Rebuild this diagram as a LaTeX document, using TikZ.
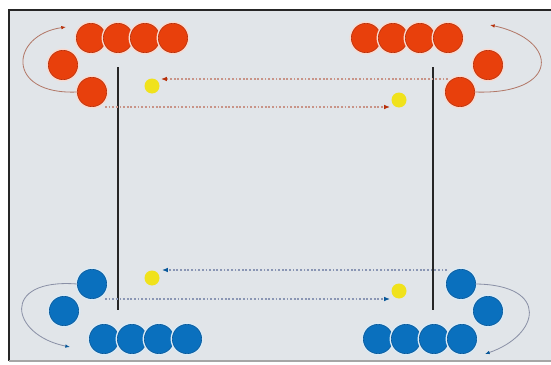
\documentclass[tikz,border=0pt]{standalone}
\usetikzlibrary{arrows.meta}
\definecolor{bg}{HTML}{E1E5E9}
\definecolor{redc}{HTML}{E8400C}
\definecolor{redd}{HTML}{B8300A}
\definecolor{bluec}{HTML}{0A70BE}
\definecolor{blued}{HTML}{08589A}
\definecolor{yel}{HTML}{F0E21C}
\definecolor{reddot}{HTML}{C89488}
\definecolor{bluedot}{HTML}{8A96B4}
\definecolor{redcurve}{HTML}{B27868}
\definecolor{bluecurve}{HTML}{8A90A6}
\tikzset{
  rball/.style={circle,fill=redc,draw=redd,line width=0.5pt,inner sep=0pt,minimum size=0.88cm,
    preaction={draw=redc!20,line width=3pt}},
  bball/.style={circle,fill=bluec,draw=blued,line width=0.5pt,inner sep=0pt,minimum size=0.88cm,
    preaction={draw=bluec!15,line width=3pt}},
  ydot/.style={circle,fill=yel,draw=none,inner sep=0pt,minimum size=0.45cm},
  pillar/.style={line width=2.4pt,draw=black!85},
  rflow/.style={draw=reddot,line width=1pt,dash pattern=on 1.5pt off 1.6pt,
    -{Latex[length=5pt,width=4pt,color=redd]}},
  bflow/.style={draw=bluedot,line width=1pt,dash pattern=on 1.5pt off 1.6pt,
    -{Latex[length=5pt,width=4pt,color=blued]}},
  rcurve/.style={draw=redcurve,line width=0.7pt,-{Latex[length=4pt,width=3pt,color=redd]}},
  bcurve/.style={draw=bluecurve,line width=0.7pt,-{Latex[length=4pt,width=3pt,color=blued]}},
}
\begin{document}
\begin{tikzpicture}[x=0.03cm,y=-0.03cm]
\useasboundingbox (0,0) rectangle (551,365);
\fill[white] (0,0) rectangle (551,365);
\fill[bg] (9,10) rectangle (551,361);
\draw[line width=2pt,black!85] (9,361) -- (9,10) -- (551,10);
\draw[line width=1pt,black!35] (9,361) -- (551,361);

% pillars
\coordinate (pl1) at (118,67);
\coordinate (pl2) at (118,310);
\coordinate (pr1) at (433,67);
\coordinate (pr2) at (433,310);
\draw[pillar] (pl1) -- (pl2);
\draw[pillar] (pr1) -- (pr2);

% top-left red
\node[rball] (tl1) at (91,38) {};
\node[rball] (tl2) at (118,38) {};
\node[rball] (tl3) at (145,38) {};
\node[rball] (tl4) at (173,38) {};
\node[rball] (tl5) at (63,65) {};
\node[rball] (tl6) at (92,92) {};
% top-right red
\node[rball] (tr1) at (366,38) {};
\node[rball] (tr2) at (393,38) {};
\node[rball] (tr3) at (420,38) {};
\node[rball] (tr4) at (448,38) {};
\node[rball] (tr5) at (488,65) {};
\node[rball] (tr6) at (460,92) {};
% bottom-left blue
\node[bball] (bl1) at (104,339) {};
\node[bball] (bl2) at (132,339) {};
\node[bball] (bl3) at (159,339) {};
\node[bball] (bl4) at (187,339) {};
\node[bball] (bl5) at (64,311) {};
\node[bball] (bl6) at (92,284) {};
% bottom-right blue
\node[bball] (br1) at (378,339) {};
\node[bball] (br2) at (406,339) {};
\node[bball] (br3) at (434,339) {};
\node[bball] (br4) at (462,339) {};
\node[bball] (br5) at (488,311) {};
\node[bball] (br6) at (461,284) {};

% yellow dots
\node[ydot] (yt1) at (152,86) {};
\node[ydot] (yt2) at (399,100) {};
\node[ydot] (yb1) at (152,278) {};
\node[ydot] (yb2) at (399,291) {};

% dotted flows
\coordinate (ft1s) at (448,79);
\coordinate (ft1e) at (161,79);
\coordinate (ft2s) at (105,107);
\coordinate (ft2e) at (390,107);
\coordinate (fb1s) at (447,270);
\coordinate (fb1e) at (162,270);
\coordinate (fb2s) at (105,299);
\coordinate (fb2e) at (390,299);
\draw[rflow] (ft1s) -- (ft1e);
\draw[rflow] (ft2s) -- (ft2e);
\draw[bflow] (fb1s) -- (fb1e);
\draw[bflow] (fb2s) -- (fb2e);

% curved returns
\coordinate (ctl) at (66,27);
\coordinate (ctr) at (490,25);
\coordinate (cbl) at (70,347);
\coordinate (cbr) at (485,354);
\draw[rcurve] (tl6.west) .. controls (5,95) and (10,35) .. (ctl);
\draw[rcurve] (tr6.east) .. controls (560,95) and (560,40) .. (ctr);
\draw[bcurve] (bl6.west) .. controls (0,278) and (10,335) .. (cbl);
\draw[bcurve] (br6.east) .. controls (550,285) and (540,335) .. (cbr);
\end{tikzpicture}
\end{document}
